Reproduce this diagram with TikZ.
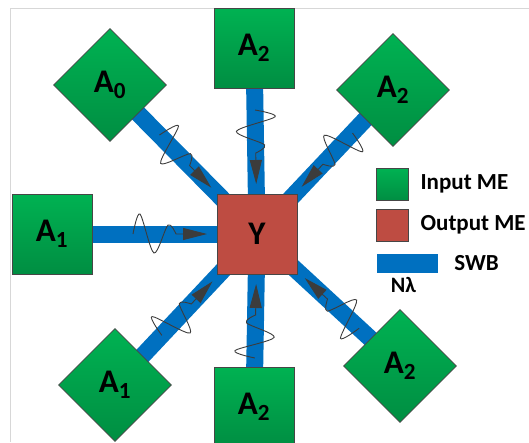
\documentclass[tikz,border=0pt]{standalone}
\usepackage{fontspec}
\setmainfont{Carlito}
\usetikzlibrary{arrows.meta,shapes.geometric,positioning,backgrounds}

\definecolor{swbblue}{RGB}{0,112,192}
\definecolor{greenhi}{RGB}{0,178,82}
\definecolor{greenlo}{RGB}{0,142,66}
\definecolor{outred}{RGB}{190,76,66}
\definecolor{edgegray}{RGB}{70,70,70}
\definecolor{siggray}{RGB}{60,60,60}
\definecolor{framegray}{RGB}{215,215,215}

\begin{document}
\begin{tikzpicture}[
    x=1pt, y=-1pt,
    mebox/.style={draw=edgegray, line width=0.8pt, inner sep=0pt, font=\fontsize{33}{36}\selectfont\bfseries},
    inme/.style={mebox, top color=greenhi, bottom color=greenlo},
    sqme/.style={inme, minimum size=80pt},
    dime/.style={inme, diamond, minimum size=113pt},
    outme/.style={mebox, fill=outred, minimum size=80pt},
    swb/.style={swbblue, line width=17pt},
    sig/.style={siggray, line width=0.9pt, -{Triangle[length=24pt, width=12pt]}},
    legtext/.style={inner sep=0pt, font=\fontsize{23}{26}\selectfont\bfseries}
]
\useasboundingbox (0,0) rectangle (529,442);
\draw[framegray] (10,442) -- (10,8) -- (529,8);

% output ME and the input MEs round it
\node[outme] (Y) at (257,234) {Y};
\node[dime] (a0) at (110,85) {A\textsubscript{0}};
\node[sqme] (a2n) at (254,48) {A\textsubscript{2}};
\node[dime] (a2ne) at (393,90) {A\textsubscript{2}};
\node[sqme] (a1w) at (52,234) {A\textsubscript{1}};
\node[dime] (a1sw) at (115,385) {A\textsubscript{1}};
\node[sqme] (a2s) at (254,407) {A\textsubscript{2}};
\node[dime] (a2se) at (400,366) {A\textsubscript{2}};

% SWB links
\begin{scope}[on background layer]
  \foreach \m in {a0,a2n,a2ne,a1w,a1sw,a2s,a2se}
    \draw[swb] (Y.center) -- (\m.center);
\end{scope}

% signals running into Y
\foreach \ang/\s in {134.6/15, 90.9/0, 46.6/15, 180/0, 226.8/15, 269/0, 317.3/15}{
  \begin{scope}[shift={(Y.center)}, rotate=\ang, xshift=\s pt]
    \draw[sig] plot[smooth] coordinates {(124,0) (117,20) (103,-19) (89,9) (81,0)} -- (50,0);
  \end{scope}
}

% legend
\node[inme, minimum size=32pt] (legin) at (392,184) {};
\node[outme, minimum size=32pt] (legout) at (392,225) {};
\node[fill=swbblue, minimum width=61pt, minimum height=19pt, inner sep=0pt] (legswb) at (407.5,263.5) {};
\node[legtext, right=12pt of legin] (txtin) {Input ME};
\node[legtext, right=12pt of legout] (txtout) {Output ME};
\node[legtext, right=16pt of legswb] (txtswb) {SWB};
\node[legtext, below=4pt of legswb, xshift=-4pt, font=\fontsize{22}{24}\selectfont\bfseries] (txtnl) {Nλ};
\end{tikzpicture}
\end{document}
